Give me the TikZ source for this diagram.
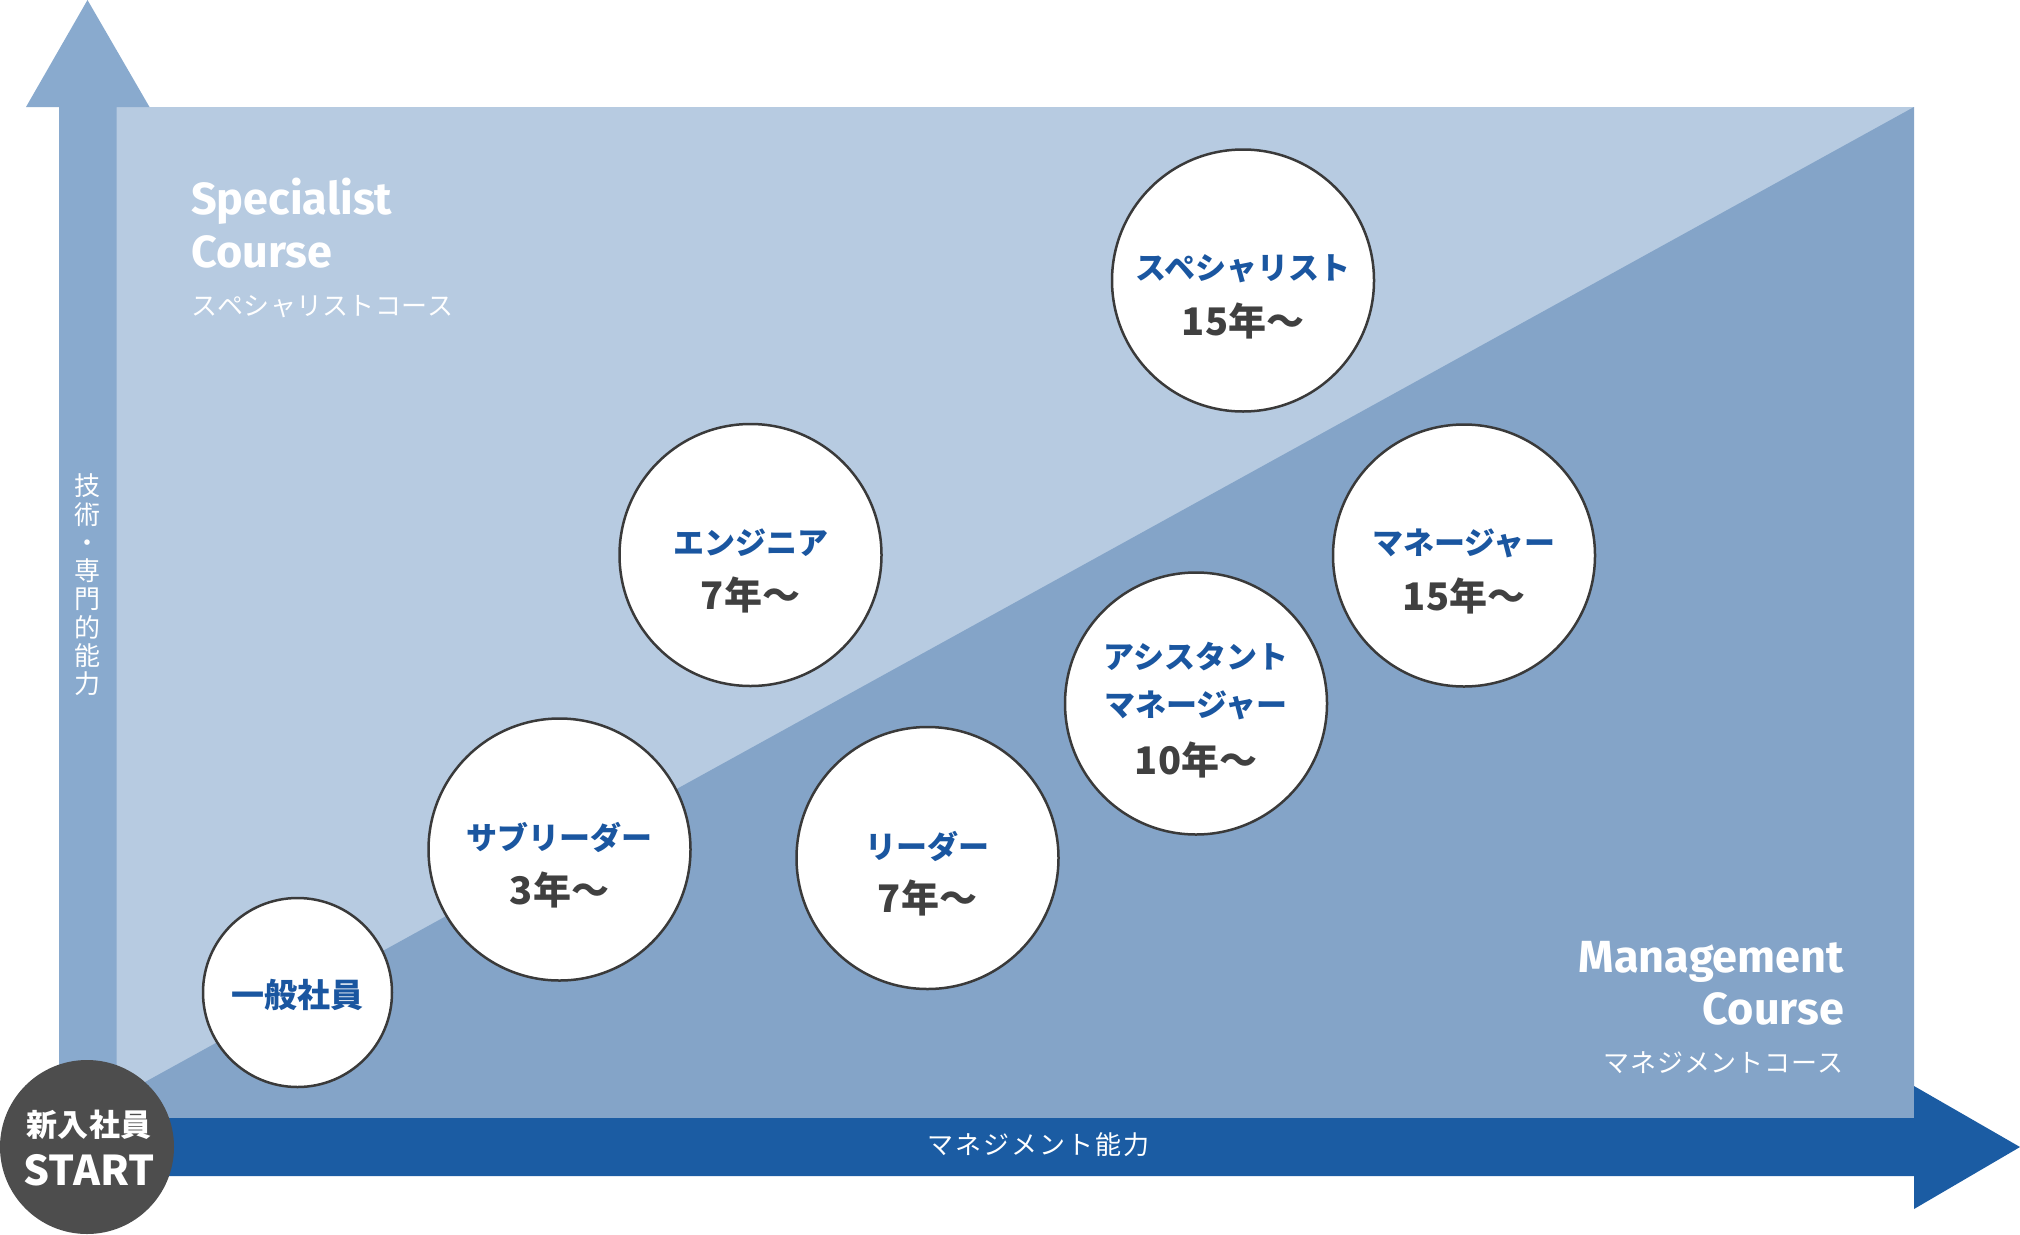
\documentclass[tikz,border=0pt]{standalone}
\usepackage{fontspec}
\usetikzlibrary{calc}
\newfontfamily\jp{Noto Sans CJK JP}
\newfontfamily\en{Fira Sans}
\definecolor{lightbg}{HTML}{B7CBE1}
\definecolor{midbg}{HTML}{84A4C8}
\definecolor{varrow}{HTML}{89AACE}
\definecolor{darkblue}{HTML}{1B5CA3}
\definecolor{titleblue}{HTML}{1A56A0}
\definecolor{yeargray}{HTML}{404040}
\definecolor{startgray}{HTML}{4D4D4D}
\definecolor{ringgray}{HTML}{3A3A3A}
\ExplSyntaxOn
\NewDocumentCommand\tracked{mm}{\tl_map_inline:nn{#2}{##1\hspace{#1}}\unskip}
\ExplSyntaxOff
\tikzset{
  stage/.style={circle, draw=ringgray, line width=2.5pt, fill=white, minimum size=262pt, inner sep=0pt},
  ttl/.style={font=\jp\bfseries\fontsize{31}{31}\selectfont, text=titleblue, inner sep=0pt},
  yr/.style={font=\jp\bfseries\fontsize{38}{38}\selectfont, text=yeargray, inner sep=0pt},
  entitle/.style={font=\en\bfseries\fontsize{45}{45}\selectfont, text=white, inner sep=0pt},
  jpsub/.style={font=\jp\fontsize{26}{26}\selectfont, text=white, inner sep=0pt}
}
\begin{document}
\begin{tikzpicture}[x=1pt,y=-1pt]
\useasboundingbox (0,0) rectangle (2020,1234);
\fill[white] (0,0) rectangle (2020,1234);
% background areas
\fill[lightbg] (116,107) rectangle (1914,1118);
\fill[midbg] (116,1098) -- (1914,107) -- (1914,1118) -- (116,1118) -- cycle;
% vertical axis arrow
\fill[varrow] (59,1150) -- (59,107) -- (26,107) -- (87.5,0) -- (149.5,107) -- (116.5,107) -- (116.5,1150) -- cycle;
% horizontal axis arrow
\fill[darkblue] (87,1118) -- (1914,1118) -- (1914,1086) -- (2020,1147) -- (1914,1209) -- (1914,1176) -- (87,1176) -- cycle;
% axis labels
\node[font=\jp\fontsize{26}{28.3}\selectfont, text=white, align=center, inner sep=0pt] (techaxis) at (87.5,585) {技\\術\\・\\専\\門\\的\\能\\力};
\node[jpsub] (mgmtaxis) at (1038.5,1144.5) {\tracked{2.1pt}{マネジメント能力}};
% course labels
\node[entitle, anchor=base west] (spec1) at (191,214) {Specialist};
\node[entitle, anchor=base west] (spec2) at (191,267) {Course};
\node[jpsub, anchor=west] (spec3) at (191,306.5) {\tracked{0.3pt}{スペシャリストコース}};
\node[entitle, anchor=base east] (mg1) at (1844,972) {Management};
\node[entitle, anchor=base east] (mg2) at (1844,1024) {Course};
\node[jpsub, anchor=east] (mg3) at (1844,1062.5) {\tracked{0.75pt}{マネジメントコース}};
% start
\node[circle, fill=startgray, minimum size=174pt, inner sep=0pt] (start) at (87,1147) {};
\node[font=\jp\bfseries\fontsize{31}{31}\selectfont, text=white, inner sep=0pt] (startjp) at (89,1125) {新入社員};
\node[font=\jp\bfseries\fontsize{41}{41}\selectfont, text=white, inner sep=0pt] (starten) at (89,1170) {START};
% stages
\node[stage, minimum size=189pt] (c1) at (297.5,992.5) {};
\node[ttl, font=\jp\bfseries\fontsize{33}{33}\selectfont] (c1t) at ($(c1)+(0,2.5)$) {一般社員};

\node[stage] (c2) at (559.5,849.5) {};
\node[ttl] (c2t) at ($(c2)+(0,-12)$) {サブリーダー};
\node[yr] (c2y) at ($(c2)+(0,40)$) {3年〜};

\node[stage] (c3) at (750.5,555) {};
\node[ttl] (c3t) at ($(c3)+(0,-12)$) {エンジニア};
\node[yr] (c3y) at ($(c3)+(0,40)$) {7年〜};

\node[stage] (c4) at (927.5,858) {};
\node[ttl] (c4t) at ($(c4)+(0,-12)$) {リーダー};
\node[yr] (c4y) at ($(c4)+(0,40)$) {7年〜};

\node[stage] (c5) at (1196,703.5) {};
\node[ttl] (c5t) at ($(c5)+(0,-47)$) {アシスタント};
\node[ttl] (c5u) at ($(c5)+(0,1.5)$) {マネージャー};
\node[yr] (c5y) at ($(c5)+(0,56)$) {10年〜};

\node[stage] (c6) at (1243,280.5) {};
\node[ttl] (c6t) at ($(c6)+(0,-12)$) {スペシャリスト};
\node[yr] (c6y) at ($(c6)+(0,40)$) {15年〜};

\node[stage] (c7) at (1464,555.5) {};
\node[ttl] (c7t) at ($(c7)+(0,-12)$) {マネージャー};
\node[yr] (c7y) at ($(c7)+(0,40)$) {15年〜};
\end{tikzpicture}
\end{document}
